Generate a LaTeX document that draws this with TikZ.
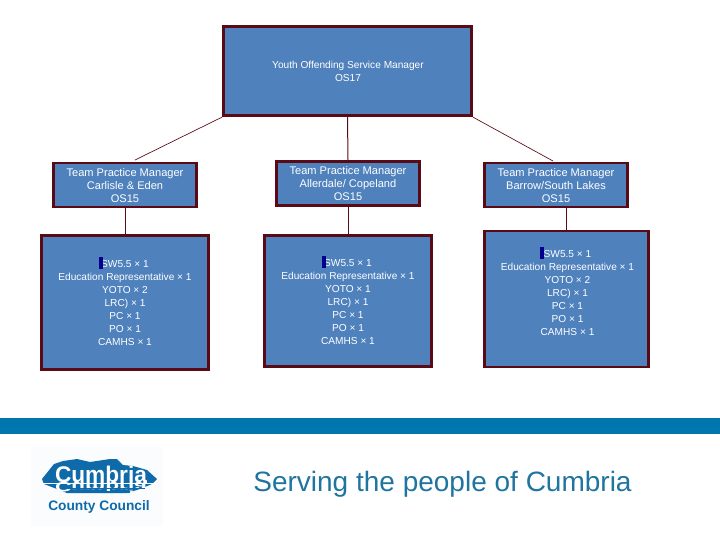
\documentclass[tikz,border=0pt]{standalone}
\usepackage{fontspec}
\setmainfont{Liberation Sans}
\definecolor{boxfill}{HTML}{4F81BD}
\definecolor{boxline}{HTML}{5A0A14}
\definecolor{band}{HTML}{0076AE}
\definecolor{logoblue}{HTML}{0F6AAA}
\definecolor{markblue}{HTML}{00008C}
\definecolor{slogan}{HTML}{1F74A0}
\tikzset{
  x=0.75pt,y=-0.75pt,
  orgbox/.style={draw=boxline,fill=boxfill,line width=2.2pt,inner sep=0pt},
  boxtext/.style={text=white,font=\fontsize{7.6}{9.85}\selectfont,align=center,inner sep=0pt,anchor=center},
  headtext/.style={boxtext,font=\fontsize{8.3}{9.75}\selectfont},
  conn/.style={draw=boxline,line width=0.75pt},
  thin conn/.style={draw=boxline,line width=0.5pt},
  bar/.style={fill=markblue,draw=none,inner sep=0pt,minimum width=3pt,minimum height=9.5pt}
}
\begin{document}
\begin{tikzpicture}
\useasboundingbox (0,0) rectangle (720,540);
% band
\fill[band] (0,418) rectangle (720,434);
% boxes
\node[orgbox,minimum width=186pt,minimum height=67pt] (top) at (347.5,71) {};
\node[orgbox,minimum width=107.5pt,minimum height=33pt] (ta) at (125,185) {};
\node[orgbox,minimum width=107.5pt,minimum height=33pt] (tb) at (348,183.5) {};
\node[orgbox,minimum width=107.5pt,minimum height=33pt] (tc) at (556,185) {};
\node[orgbox,minimum width=125.5pt,minimum height=100.5pt] (ba) at (125,302.5) {};
\node[orgbox,minimum width=125pt,minimum height=98.5pt] (bb) at (348,301) {};
\node[orgbox,minimum width=123pt,minimum height=102pt] (bc) at (566.5,299) {};
% connectors
\coordinate (tl) at (135,160);
\coordinate (tr) at (553,161);
\draw[thin conn] (top.south west) -- (tl);
\draw[thin conn] (top.south east) -- (tr);
\draw[conn] (top.south) -- (tb.north);
\draw[conn] (ta.south) -- (ba.north);
\draw[conn] (tb.south) -- (bb.north);
\draw[conn] (tc.south -| bc.north) -- (bc.north);
% texts
\node[boxtext] (ttop) at (348,71) {Youth Offending Service Manager\\OS17};
\node[headtext] (tta) at (125,186) {Team Practice Manager\\Carlisle \& Eden\\OS15};
\node[headtext] (ttb) at (348,184) {Team Practice Manager\\Allerdale/ Copeland\\OS15};
\node[headtext] (ttc) at (556,186) {Team Practice Manager\\Barrow/South Lakes\\OS15};
\node[boxtext] (tba) at (125,303) {SW5.5 × 1\\Education Representative × 1\\YOTO × 2\\LRC) × 1\\PC × 1\\PO × 1\\CAMHS × 1};
\node[boxtext] (tbb) at (348,302) {SW5.5 × 1\\Education Representative × 1\\YOTO × 1\\LRC) × 1\\PC × 1\\PO × 1\\CAMHS × 1};
\node[boxtext] (tbc) at (567.5,293) {SW5.5 × 1\\Education Representative × 1\\YOTO × 2\\LRC) × 1\\PC × 1\\PO × 1\\CAMHS × 1};
\node[bar] (ma) at (100.5,263) {};
\node[bar] (mb) at (323.5,262) {};
\node[bar] (mc) at (542,253) {};
% footer text
\node[inner sep=0pt,font=\fontsize{21}{24}\selectfont,text=slogan] (serve) at (442.5,484) {Serving the people of Cumbria};
% logo
\fill[white!98!band] (31,447) rectangle (163,526);
\fill[logoblue] (42,479) -- (54,464) -- (63,461) -- (77,459) -- (90,462) -- (110,459) -- (117,459) -- (123,465) -- (133,466) -- (147,470) -- (157,479) -- (152,484) -- (140,489) -- (127,493) -- (67,493) -- (57,489) -- (44,484) -- cycle;
\node[inner sep=0pt,text=white,font=\bfseries\fontsize{17}{20}\selectfont] (cum) at (101,474) {Cumbria};
\node[inner sep=0pt,text=white,font=\bfseries\fontsize{17}{20}\selectfont,yscale=-0.6,transform shape] (cumr) at (101,487) {Cumbria};
\fill[white] (42,482.5) rectangle (157,483.5);
\fill[logoblue] (60,488) rectangle (145,489);
\fill[logoblue] (66,491) rectangle (130,493);
\node[inner sep=0pt,text=logoblue,font=\bfseries\fontsize{10.3}{11}\selectfont] (cc) at (99,507) {County Council};
\end{tikzpicture}
\end{document}
